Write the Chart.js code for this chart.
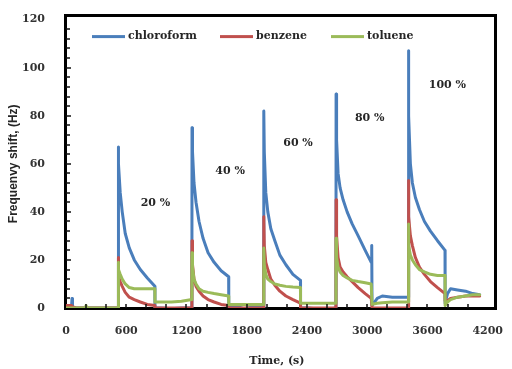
<!DOCTYPE html>
<html>
<head>
<meta charset="utf-8">
<script src="https://cdn.jsdelivr.net/npm/chart.js@4.4.1/dist/chart.umd.min.js"></script>
<style>
  html, body { margin: 0; padding: 0; background: #fff; }
  #wrap { position: relative; width: 512px; height: 369px; }
  #plotFrame {
    position: absolute; left: 64px; top: 14px; width: 433px; height: 296px;
    box-sizing: border-box; border: 3px solid #000; z-index: 0;
  }
  #freqChart { position: absolute; left: 0; top: 0; z-index: 1; }
</style>
</head>
<body>
<div id="wrap">
  <div id="plotFrame"></div>
  <canvas id="freqChart" width="512" height="369"></canvas>
</div>
<script>
// series names and colours
var seriesNames = ['chloroform', 'benzene', 'toluene'];
var seriesColors = ['#4a7ebb', '#c0504d', '#9bbb59'];

// time axis, seconds
var times = [
  0, 30, 55, 60, 65, 70, 100, 190, 200, 210, 300, 400, 519,
  520, 525, 540, 560, 590, 630, 680, 740, 810, 885, 886,
  950, 1050, 1150, 1254,
  1255, 1260, 1275, 1295, 1325, 1365, 1415, 1475, 1545, 1620, 1621,
  1700, 1770, 1900, 1969,
  1970, 1975, 1990, 2010, 2040, 2080, 2130, 2190, 2260, 2335, 2336,
  2420, 2520, 2620, 2689,
  2690, 2695, 2710, 2730, 2760, 2800, 2850, 2910, 2980, 3040, 3045, 3048,
  3100, 3150, 3250, 3350, 3409,
  3410, 3415, 3430, 3450, 3480, 3520, 3570, 3630, 3700, 3775, 3776,
  3800, 3830, 3900, 3980, 4050, 4120
];

// frequency shift, Hz
var chloroform = [
  0.5, 0.5, 0.5, 4, 0.5, 0, 0, 0, 0, 0, 0, 0, 0,
  67, 60, 48, 40, 31, 25, 20, 16, 12.5, 9, 0,
  0, -0.3, 0, 0,
  75, 65, 52, 44, 36, 29, 23, 19, 15.5, 13, 0.5,
  0.5, 1.5, 0.5, 0,
  82, 65, 48, 40, 33, 28, 22, 18, 14, 11.5, 0,
  0, -0.5, -0.5, 0,
  89, 70, 56, 50, 45, 40, 35, 30, 24, 19, 26, 1,
  4, 5, 4.5, 4.5, 4.5,
  107, 80, 60, 52, 46, 41, 36, 32, 28, 24, 2,
  6, 8, 7.5, 7, 6, 5.5
];
var benzene = [
  1, 1, 1, 0.5, 0.5, 0.5, 0, 0, 0, 0, 0, 0, 0,
  21, 13, 11, 9, 6.5, 4.5, 3.5, 2.5, 1.5, 1, 0,
  0, 0, 0, 0,
  28, 18, 12, 9, 7, 5, 3.5, 2.5, 1.5, 1, 0,
  0, 0, 0, 0,
  38, 26, 19, 16, 12, 9.5, 7, 5, 3.5, 2, 0,
  0, 0, 0, 0,
  45, 30, 21, 17, 15, 13, 11, 8.5, 6, 4, 4, 0,
  0, 0, 0, 0, 0,
  53, 38, 30, 26, 21, 17, 14, 11, 8.5, 6, 3,
  3, 4, 4.5, 5, 5, 5
];
var toluene = [
  0, 0, 0, 0, 0, 0, 0, 0, 1, 0, 0, 0, 0,
  19, 16, 14, 12, 10, 8.5, 8, 8, 8, 8, 2.5,
  2.5, 2.5, 2.8, 3.5,
  23, 17, 12, 10, 8, 7, 6.5, 6, 5.5, 5, 1.5,
  1.5, 1.5, 1.5, 1.5,
  25, 18, 14, 12, 11, 10, 9.5, 9, 8.7, 8.5, 2,
  2, 2, 2, 2,
  29, 21, 17, 15, 13.5, 12.5, 11.5, 11, 10.5, 10, 10, 1.5,
  2, 2.2, 2.5, 2.5, 2.5,
  35, 26, 22, 20, 18, 16, 15, 14, 13.5, 13.5, 1,
  2.5, 3.5, 4.5, 5, 5.5, 5.5
];

// concentration labels and where they sit (time, Hz)
var concLabels = ['20 %', '40 %', '60 %', '80 %', '100 %'];
var concAnchors = [[891, 43.6], [1635, 57.1], [2311, 68.6], [3025, 78.9], [3799, 92.9]];

var xTicks = [0, 600, 1200, 1800, 2400, 3000, 3600, 4200];

function toPoints(values) {
  return times.map(function (t, i) { return { x: t, y: values[i] }; });
}

var tickFont = { family: 'DejaVu Serif', size: 11, weight: 'bold' };

var framePlugin = {
  id: 'frame',
  afterDraw: function (chart) {
    var c = chart.ctx;
    var xs = chart.scales.x, ys = chart.scales.y;
    var L = xs.left, B = ys.bottom, T = ys.top;
    c.save();

    // inner minor ticks
    c.fillStyle = '#111';
    for (var v = 4; v < 120; v += 4) {
      var py = Math.round(ys.getPixelForValue(v));
      c.fillRect(L, py - 0.75, (v % 20 === 0) ? 5 : 4, 1.5);
    }
    for (var s = 200; s < 4200; s += 200) {
      var px = Math.round(xs.getPixelForValue(s));
      c.fillRect(px - 0.75, B - 4, 1.5, 4);
    }

    // concentration labels
    c.fillStyle = '#262626';
    c.font = 'bold 11px "DejaVu Serif"';
    c.textAlign = 'center';
    c.textBaseline = 'middle';
    concLabels.forEach(function (txt, i) {
      c.fillText(txt, xs.getPixelForValue(concAnchors[i][0]), ys.getPixelForValue(concAnchors[i][1]));
    });

    // legend inside plot
    var legendX = [92, 220, 331];
    var legendY = T + 17;
    c.textAlign = 'left';
    seriesNames.forEach(function (name, i) {
      c.fillStyle = seriesColors[i];
      c.fillRect(legendX[i], legendY - 1.5, 33, 3);
      c.fillStyle = '#262626';
      c.fillText(name, legendX[i] + 36, legendY);
    });

    c.restore();
  }
};

new Chart(document.getElementById('freqChart').getContext('2d'), {
  type: 'line',
  data: {
    datasets: [
      { label: seriesNames[0], data: toPoints(chloroform), borderColor: seriesColors[0], backgroundColor: seriesColors[0], order: 3 },
      { label: seriesNames[1], data: toPoints(benzene), borderColor: seriesColors[1], backgroundColor: seriesColors[1], order: 2 },
      { label: seriesNames[2], data: toPoints(toluene), borderColor: seriesColors[2], backgroundColor: seriesColors[2], order: 1 }
    ]
  },
  options: {
    responsive: false,
    animation: false,
    layout: { padding: { left: 0, top: 16, right: 17, bottom: 0 } },
    elements: {
      line: { borderWidth: 3, tension: 0, borderJoinStyle: 'round', borderCapStyle: 'round' },
      point: { radius: 0 }
    },
    plugins: {
      legend: { display: false },
      tooltip: { enabled: false }
    },
    scales: {
      x: {
        type: 'linear',
        min: 0,
        max: 4200,
        grid: { display: false },
        border: { display: false },
        afterBuildTicks: function (scale) {
          scale.ticks = xTicks.map(function (v) { return { value: v }; });
        },
        afterFit: function (scale) { scale.height = 61; },
        ticks: {
          color: '#333',
          font: tickFont,
          padding: 9,
          maxRotation: 0,
          callback: function (value) { return String(value); }
        },
        title: {
          display: true,
          text: 'Time, (s)',
          color: '#262626',
          font: { family: 'DejaVu Serif', size: 11, weight: 'bold' },
          padding: { top: 1, bottom: 1 }
        }
      },
      y: {
        min: 0,
        max: 120,
        grid: { display: false },
        border: { display: false },
        afterFit: function (scale) { scale.width = 66; },
        ticks: { stepSize: 20, color: '#333', font: tickFont, padding: 13 },
        title: {
          display: true,
          text: 'Frequenvy shift, (Hz)',
          color: '#262626',
          font: { family: 'Liberation Sans', size: 12, weight: 'bold' },
          padding: { top: 6, bottom: 0 }
        }
      }
    }
  },
  plugins: [framePlugin]
});
</script>
</body>
</html>
